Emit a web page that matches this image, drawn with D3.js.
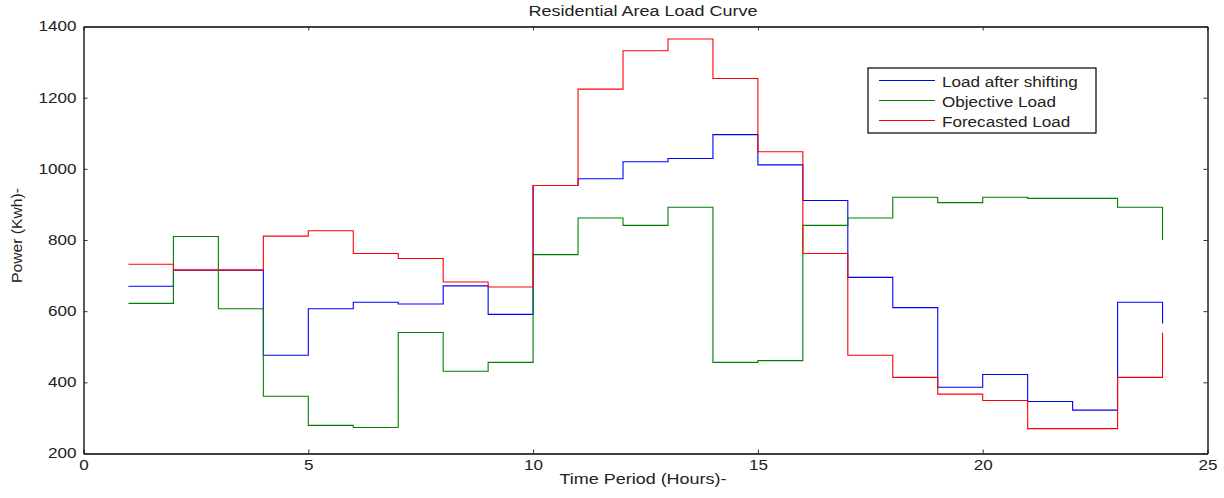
<!DOCTYPE html>
<html><head><meta charset="utf-8">
<script src="https://cdn.jsdelivr.net/npm/d3@7"></script>
<style>body{margin:0;background:#fff}svg{display:block}text{font-family:"Liberation Sans",Arial,sans-serif;fill:#222}</style>
</head><body>
<script>
const hours = d3.range(1, 25);
const loadAfterShifting = [670,715,715,476,607,625,620,671,591,953,972,1020,1029,1096,1011,911,695,610,386,422,346,322,625,565];
const objectiveLoad = [622,810,607,361,279,273,540,431,456,759,862,841,892,456,461,841,862,920,905,920,917,917,892,800];
const forecastedLoad = [732,716,716,811,826,762,748,682,668,953,1224,1332,1365,1254,1048,762,476,414,367,349,270,270,414,539];
const xTicks = [0,5,10,15,20,25];
const yTicks = [200,400,600,800,1000,1200,1400];
const seriesNames = ["Load after shifting","Objective Load","Forecasted Load"];
const seriesColors = ["#0000ff","#008000","#ff0000"];

const W = 1224, H = 498;
const m = {left:83.5, right:W-1207.5, top:26.5, bottom:H-453.5};
const svg = d3.select("body").append("svg").attr("width",W).attr("height",H);
const x = d3.scaleLinear().domain([0,25]).range([m.left, W-m.right]);
const y = d3.scaleLinear().domain([200,1400]).range([H-m.bottom, m.top]);
const SX = 1.22;
function stretch(sel){
  sel.each(function(){ const L=this.getComputedTextLength(); d3.select(this).attr("textLength",L*SX).attr("lengthAdjust","spacingAndGlyphs"); });
}

const series = [loadAfterShifting, objectiveLoad, forecastedLoad];
const line = d3.line().x((d,i)=>x(hours[i])).y(d=>y(d)).curve(d3.curveStepAfter);
const g = svg.append("g");
series.forEach((s,k)=>{
  g.append("path").datum(s).attr("fill","none").attr("stroke",seriesColors[k]).attr("stroke-width",1.1).attr("d",line);
});

const tl = 4;
const fmt = d3.format("d");
const axB = d3.axisBottom(x).tickValues(xTicks).tickSizeInner(-tl).tickSizeOuter(0).tickPadding(7).tickFormat(fmt);
const axT = d3.axisTop(x).tickValues(xTicks).tickSizeInner(-tl).tickSizeOuter(0).tickFormat("");
const axL = d3.axisLeft(y).tickValues(yTicks).tickSizeInner(-tl).tickSizeOuter(0).tickPadding(7).tickFormat(fmt);
const axR = d3.axisRight(y).tickValues(yTicks).tickSizeInner(-tl).tickSizeOuter(0).tickFormat("");
function style(sel){
  sel.select(".domain").attr("stroke","#000").attr("stroke-width",1.3);
  sel.selectAll(".tick line").attr("stroke","#333");
  sel.selectAll(".tick text").attr("font-size",14).attr("font-family","Liberation Sans, Arial, sans-serif").attr("fill","#222").call(stretch);
}
svg.append("g").attr("transform",`translate(0,${H-m.bottom})`).call(axB).call(style);
svg.append("g").attr("transform",`translate(0,${m.top})`).call(axT).call(style);
svg.append("g").attr("transform",`translate(${m.left},0)`).call(axL).call(style);
svg.append("g").attr("transform",`translate(${W-m.right},0)`).call(axR).call(style);

svg.append("text").attr("x",643).attr("y",16).attr("text-anchor","middle").attr("font-size",14)
  .attr("textLength",229).attr("lengthAdjust","spacingAndGlyphs").text("Residential Area Load Curve");
svg.append("text").attr("x",643).attr("y",484).attr("text-anchor","middle").attr("font-size",14.5)
  .attr("textLength",167).attr("lengthAdjust","spacingAndGlyphs").text("Time Period (Hours)-");
svg.append("text").attr("transform","translate(22,235.5) rotate(-90)").attr("text-anchor","middle").attr("font-size",14.5)
  .attr("textLength",95).attr("lengthAdjust","spacingAndGlyphs").text("Power (Kwh)-");

const lg = svg.append("g");
lg.append("rect").attr("x",868).attr("y",68).attr("width",228).attr("height",65).attr("fill","#fff").attr("stroke","#000").attr("stroke-width",1.2);
seriesNames.forEach((n,i)=>{
  const yy = 80.5 + i*20;
  lg.append("line").attr("x1",879).attr("x2",935).attr("y1",yy).attr("y2",yy).attr("stroke",seriesColors[i]).attr("stroke-width",1.1);
  lg.append("text").attr("x",942).attr("y",yy+6).attr("font-size",14).text(n).call(stretch);
});
</script>
</body></html>
